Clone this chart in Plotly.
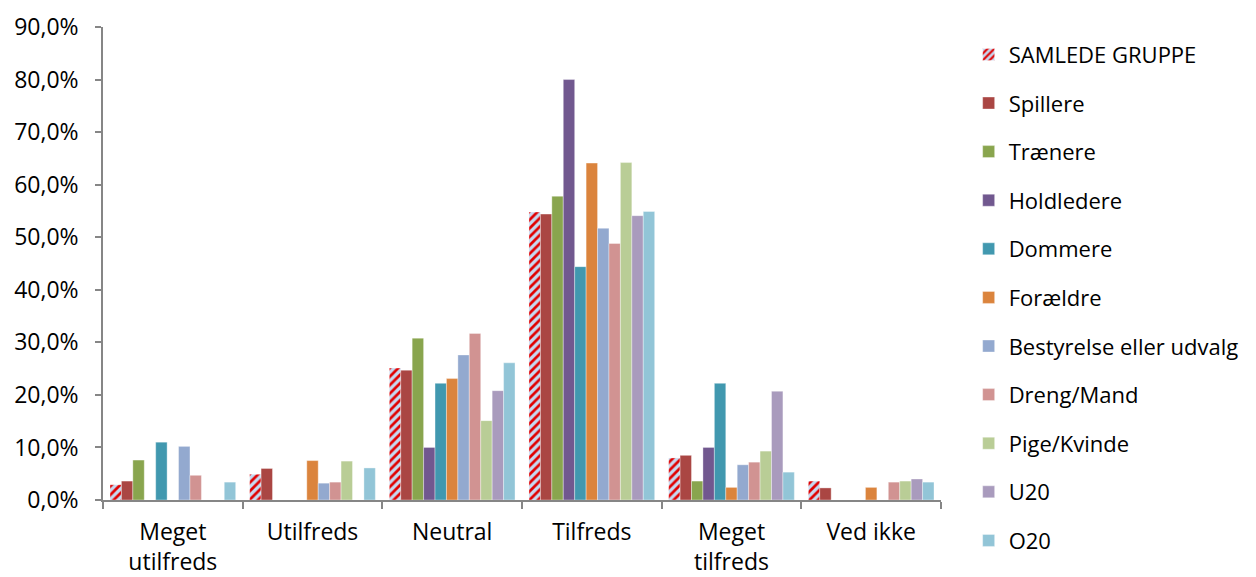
import plotly.graph_objects as go

categories = ["Meget<br>utilfreds", "Utilfreds", "Neutral", "Tilfreds", "Meget<br>tilfreds", "Ved ikke"]

series_names = ["SAMLEDE GRUPPE", "Spillere", "Trænere", "Holdledere", "Dommere", "Forældre",
                "Bestyrelse eller udvalg", "Dreng/Mand", "Pige/Kvinde", "U20", "O20"]

samlede = [0.029, 0.049, 0.251, 0.548, 0.080, 0.036]
spillere = [0.036, 0.060, 0.247, 0.544, 0.085, 0.023]
traenere = [0.076, 0.0, 0.308, 0.578, 0.036, 0.0]
holdledere = [0.0, 0.0, 0.100, 0.800, 0.100, 0.0]
dommere = [0.110, 0.0, 0.222, 0.444, 0.222, 0.0]
foraeldre = [0.0, 0.075, 0.231, 0.641, 0.024, 0.024]
bestyrelse = [0.102, 0.032, 0.276, 0.517, 0.067, 0.0]
dreng = [0.047, 0.034, 0.317, 0.488, 0.072, 0.034]
pige = [0.0, 0.074, 0.151, 0.642, 0.093, 0.036]
u20 = [0.0, 0.0, 0.208, 0.541, 0.207, 0.040]
o20 = [0.034, 0.061, 0.261, 0.549, 0.053, 0.034]

values = [samlede, spillere, traenere, holdledere, dommere, foraeldre,
          bestyrelse, dreng, pige, u20, o20]
colors = ["#C6D9F1", "#AA4643", "#89A54E", "#71588F", "#4198AF", "#DB843D",
          "#93A9CF", "#D19392", "#B9CD96", "#A99BBD", "#92C5D7"]

fig = go.Figure()
for i, (name, vals, col) in enumerate(zip(series_names, values, colors)):
    marker = dict(color=col, line=dict(color="rgba(255,255,255,0.6)", width=0.6))
    if i == 0:
        marker["pattern"] = dict(shape="/", fgcolor="#E00000", bgcolor="#C6D9F1",
                                 fgopacity=1, size=6, solidity=0.45)
    fig.add_trace(go.Bar(x=categories, y=vals, name=name, marker=marker,
                         legendgroup=f"g{i}"))

FS = 23
fig.update_layout(
    width=1248, height=569,
    paper_bgcolor="white", plot_bgcolor="white",
    margin=dict(l=95, r=311, t=19, b=77),
    separators=",.",
    barmode="group", bargap=0.1, bargroupgap=0,
    font=dict(family="Open Sans, Noto Sans, sans-serif", size=FS, color="#000000"),
    legend=dict(x=1.033, xanchor="left", y=0.986, yanchor="top",
                font=dict(size=22), tracegroupgap=17, traceorder="grouped",
                itemwidth=30, bgcolor="rgba(0,0,0,0)", maxheight=565,
                borderwidth=0),
    showlegend=True,
)
fig.update_yaxes(range=[0, 0.9], dtick=0.1, tickformat=".1%",
                 showgrid=False, zeroline=False, automargin=False,
                 showline=True, linecolor="#868686", linewidth=1.5,
                 ticks="outside", ticklen=6, tickcolor="#868686", tickwidth=1.5,
                 ticklabelstandoff=12, tickfont=dict(size=FS))
fig.update_xaxes(showline=True, linecolor="#868686", linewidth=1.5, automargin=False,
                 ticks="outside", tickson="boundaries", ticklen=7,
                 tickcolor="#868686", tickwidth=1.5, ticklabelstandoff=11,
                 tickfont=dict(size=FS))

fig.write_html("out.html")
